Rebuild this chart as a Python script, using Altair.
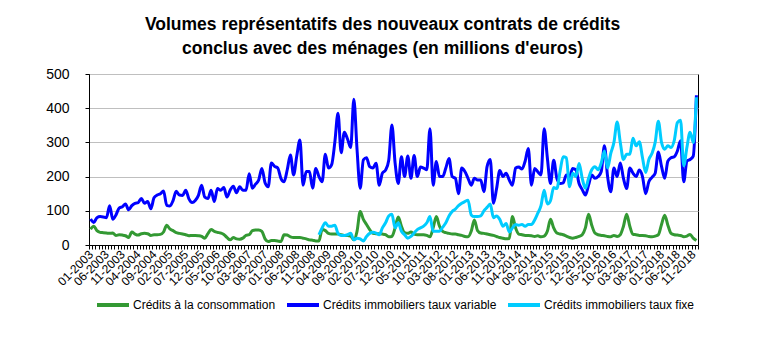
import altair as alt
import pandas as pd

# monthly data, 01-2003 .. 12-2018 (192 months)
conso = [46,55,42,37,36,35,34,35,28,30,
         29,27,22,38,32,29,33,34,33,28,
         30,30,31,38,58,47,42,36,34,32,
         30,27,28,28,27,25,20,33,45,40,
         37,35,31,22,15,22,18,17,20,28,
         30,42,44,44,40,18,10,13,13,12,
         10,30,29,24,22,22,22,20,18,15,
         14,12,12,45,42,34,32,32,32,30,
         28,28,26,15,40,98,75,60,45,34,
         33,33,32,30,24,25,50,82,55,36,
         34,38,32,30,30,30,28,24,50,83,
         55,40,36,34,32,32,30,28,25,24,
         40,73,42,35,34,32,30,28,25,22,
         20,18,19,83,50,32,30,28,28,27,
         25,27,24,26,40,75,50,35,32,30,
         26,22,20,22,25,30,50,90,58,35,
         30,28,27,25,24,28,25,30,55,90,
         55,31,30,28,28,27,25,24,26,30,
         60,87,58,34,30,29,28,24,26,31,
         20,13]

variable = [76,66,80,83,82,80,115,75,88,108,
            112,120,103,115,122,124,136,122,127,106,
            138,146,150,158,116,114,130,157,146,145,
            160,135,124,130,145,175,140,136,160,127,
            165,160,168,140,160,172,153,170,160,160,
            208,166,178,190,224,182,170,240,230,225,
            195,185,220,263,205,260,307,175,215,215,
            166,224,200,185,265,225,235,300,385,270,
            330,310,285,426,280,166,249,255,229,225,
            239,175,210,219,248,351,240,180,258,200,
            260,195,262,200,228,225,220,340,175,244,
            200,200,225,253,200,195,150,225,215,195,
            175,195,190,190,156,229,250,122,165,218,
            200,210,190,175,225,228,222,245,282,175,
            224,214,205,340,255,180,248,195,180,182,
            205,200,224,220,180,162,146,175,205,195,
            200,215,290,200,156,225,200,240,195,165,
            225,210,200,219,200,150,185,198,210,272,
            230,195,245,255,258,275,305,185,245,250,
            260,438]

# fixed-rate series starts in 01-2009 (month index 72)
fixe_start = 72
fixe = [30,50,65,55,55,58,34,28,
        28,30,34,15,20,18,12,25,34,37,
        35,30,50,65,85,90,50,65,40,30,
        20,25,35,45,50,55,65,83,40,40,
        40,52,65,85,98,105,115,122,127,131,
        88,83,83,85,100,110,120,80,85,75,
        55,63,38,50,60,58,60,55,60,60,
        73,93,115,160,120,130,168,165,215,258,
        255,170,210,200,238,195,166,195,220,229,
        220,240,275,225,268,300,360,300,250,265,
        265,312,290,302,255,212,250,268,300,362,
        300,280,290,285,305,358,365,232,285,330,
        300,432]

tick_labels = ["01-2003","06-2003","11-2003","04-2004","09-2004","02-2005","07-2005",
               "12-2005","05-2006","10-2006","03-2007","08-2007","01-2008","06-2008",
               "11-2008","04-2009","09-2009","02-2010","07-2010","12-2010","05-2011",
               "10-2011","03-2012","08-2012","01-2013","06-2013","11-2013","04-2014",
               "09-2014","02-2015","07-2015","12-2015","05-2016","10-2016","03-2017",
               "08-2017","01-2018","06-2018","11-2018"]

series_names = ["Crédits à la consommation",
                "Crédits immobiliers taux variable",
                "Crédits immobiliers taux fixe"]
colors = ["#339933", "#0000FF", "#00CCFF"]

rows = []
for i, v in enumerate(conso):
    rows.append({"x": i + 0.5, "value": v, "serie": series_names[0]})
for i, v in enumerate(variable):
    rows.append({"x": i + 0.5, "value": v, "serie": series_names[1]})
for k, v in enumerate(fixe):
    rows.append({"x": fixe_start + k + 0.5, "value": v, "serie": series_names[2]})
df = pd.DataFrame(rows)

labels_js = "[" + ",".join("'" + t + "'" for t in tick_labels) + "]"
label_expr = f"(datum.value % 5 == 0 && datum.value <= 190) ? {labels_js}[datum.value / 5] : ''"

FONT = "Liberation Sans"

x_enc = alt.X("x:Q",
              scale=alt.Scale(domain=[0, 192], nice=False, zero=False),
              axis=alt.Axis(values=list(range(0, 193)), labelExpr=label_expr,
                            labelAngle=-45, labelAlign="right", labelBaseline="middle",
                            labelOverlap=False, labelOffset=1.6, labelPadding=3,
                            labelFontSize=12, labelFont=FONT, labelColor="black",
                            tickSize=4, tickColor="black", domainColor="black",
                            grid=False, title=None))
y_enc = alt.Y("value:Q",
              scale=alt.Scale(domain=[0, 500], nice=False),
              axis=alt.Axis(values=[0, 100, 200, 300, 400, 500], labelFontSize=14,
                            labelFont=FONT, labelColor="black", labelPadding=16,
                            tickSize=4, tickColor="black", domainColor="black",
                            gridColor="#BFBFBF", gridWidth=1, title=None))
color_enc = alt.Color("serie:N",
                      scale=alt.Scale(domain=series_names, range=colors),
                      legend=alt.Legend(title=None, orient="none", direction="horizontal",
                                        legendX=6, legendY=213, symbolType="stroke",
                                        symbolSize=1024, symbolStrokeWidth=4,
                                        labelFontSize=12, labelFont=FONT, labelColor="black",
                                        labelOffset=2, labelLimit=400, columnPadding=3,
                                        gridAlign="each", padding=0))

layers = []
for name in series_names:
    layers.append(
        alt.Chart(df).transform_filter(alt.datum.serie == name)
        .mark_line(strokeWidth=3, interpolate="monotone")
        .encode(x=x_enc, y=y_enc, color=color_enc)
    )

chart = alt.layer(*layers).properties(
    width=609, height=171,
    title=alt.TitleParams(["Volumes représentatifs des nouveaux contrats de crédits",
                           "conclus avec des ménages (en millions d'euros)"],
                          font=FONT, fontSize=17.5, fontWeight="bold", color="black",
                          anchor="middle", lineHeight=24, offset=10, dx=-11),
    autosize=alt.AutoSizeParams(type="none"),
    padding={"left": 89, "top": 74, "right": 86, "bottom": 97},
    background="white",
).configure_view(stroke="black", strokeWidth=1)

chart.save("out.html", embed_options={"renderer": "svg", "actions": False})
